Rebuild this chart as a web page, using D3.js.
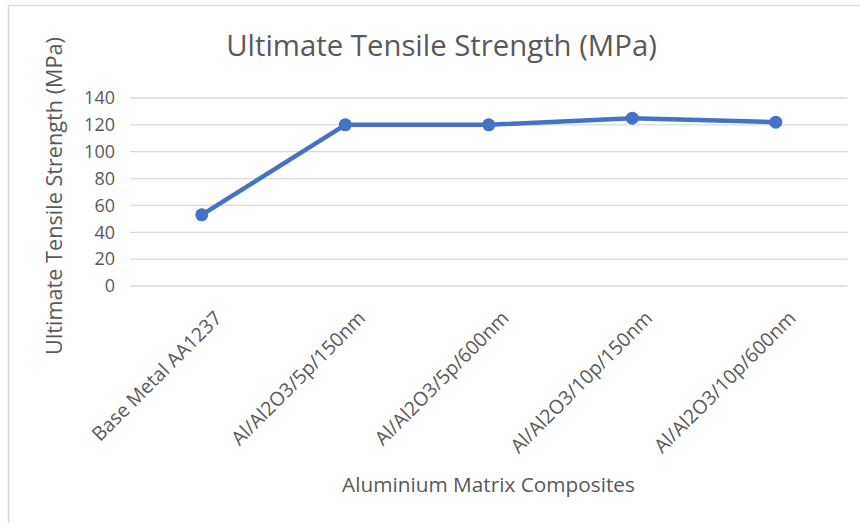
<!DOCTYPE html>
<html>
<head>
<meta charset="utf-8">
<script src="https://cdn.jsdelivr.net/npm/d3@7"></script>
<style>
  body { margin: 0; background: #fff; }
  text { font-family: "Open Sans", sans-serif; fill: #595959; }
</style>
</head>
<body>
<svg id="chart" width="860" height="523"></svg>
<script>
var categories = ["Base Metal AA1237", "Al/Al2O3/5p/150nm", "Al/Al2O3/5p/600nm", "Al/Al2O3/10p/150nm", "Al/Al2O3/10p/600nm"];
var strength = [53, 120, 120, 125, 122];
var yTicks = [0, 20, 40, 60, 80, 100, 120, 140];

var svg = d3.select("#chart");

// chart border (only left and top visible in the crop)
svg.append("line").attr("x1", 8.5).attr("x2", 8.5).attr("y1", 5).attr("y2", 523)
  .attr("stroke", "#d9d9d9").attr("stroke-width", 1.5);
svg.append("line").attr("x1", 8).attr("x2", 860).attr("y1", 5.5).attr("y2", 5.5)
  .attr("stroke", "#d9d9d9").attr("stroke-width", 1.5);

var plotLeft = 130, plotRight = 847.5, plotTop = 98, plotBottom = 286;

var x = d3.scaleBand().domain(categories).range([plotLeft, plotRight]);
var y = d3.scaleLinear().domain([0, 140]).range([plotBottom, plotTop]);

// gridlines
svg.append("g")
  .selectAll("line")
  .data(yTicks)
  .enter().append("line")
    .attr("x1", plotLeft).attr("x2", plotRight)
    .attr("y1", function(d) { return y(d); })
    .attr("y2", function(d) { return y(d); })
    .attr("stroke", "#d9d9d9")
    .attr("stroke-width", 1.3);

// y tick labels
var yAxis = svg.append("g")
  .attr("transform", "translate(" + plotLeft + ",0)")
  .call(d3.axisLeft(y).tickValues(yTicks).tickSize(0).tickPadding(15));
yAxis.select(".domain").remove();
yAxis.selectAll("text")
  .style("font-size", "18px")
  .style("font-family", "'Open Sans', sans-serif")
  .attr("fill", "#595959");

// x category labels, rotated
var xAxis = svg.append("g")
  .attr("transform", "translate(0," + plotBottom + ")")
  .call(d3.axisBottom(x).tickSize(0));
xAxis.select(".domain").remove();
xAxis.selectAll("text")
  .style("font-size", "17px")
  .style("font-family", "'Open Sans', sans-serif")
  .attr("fill", "#595959")
  .attr("text-anchor", "end")
  .attr("x", 0).attr("y", 0).attr("dy", "0.75em")
  .attr("transform", "translate(11,23) rotate(-45)");

// fit label size to the reference width of the first label
var first = xAxis.select("text").node();
var labelSize = 17 * 174 / first.getComputedTextLength();
xAxis.selectAll("text").style("font-size", labelSize + "px");

// line
var line = d3.line()
  .x(function(d, i) { return x(categories[i]) + x.bandwidth() / 2; })
  .y(function(d) { return y(d); });

svg.append("path")
  .datum(strength)
  .attr("d", line)
  .attr("fill", "none")
  .attr("stroke", "#4472c4")
  .attr("stroke-width", 4.5)
  .attr("stroke-linejoin", "round");

svg.append("g")
  .selectAll("circle")
  .data(strength)
  .enter().append("circle")
    .attr("cx", function(d, i) { return x(categories[i]) + x.bandwidth() / 2; })
    .attr("cy", function(d) { return y(d); })
    .attr("r", 6.5)
    .attr("fill", "#4472c4");

// fits a text element's font size to a target width
function fit(sel, width, size) {
  sel.style("font-size", size + "px");
  var w = sel.node().getComputedTextLength();
  sel.style("font-size", (size * width / w) + "px");
}

var title = svg.append("text")
  .attr("x", 441.5).attr("y", 56)
  .attr("text-anchor", "middle")
  .text("Ultimate Tensile Strength (MPa)");
fit(title, 431, 26);

var xTitle = svg.append("text")
  .attr("x", 488.5).attr("y", 492)
  .attr("text-anchor", "middle")
  .text("Aluminium Matrix Composites");
fit(xTitle, 293, 20);

var yTitle = svg.append("text")
  .attr("transform", "translate(62,196) rotate(-90)")
  .attr("text-anchor", "middle")
  .text("Ultimate Tensile Strength (MPa)");
fit(yTitle, 318, 18);
</script>
</body>
</html>
